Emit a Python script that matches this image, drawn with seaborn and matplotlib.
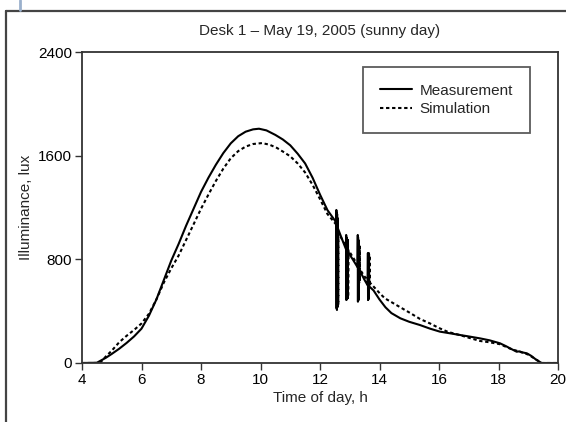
import matplotlib
matplotlib.use("Agg")
import matplotlib.pyplot as plt
import seaborn as sns
import pandas as pd
from matplotlib.lines import Line2D

# ---- data ----
meas_time = [4.0, 4.5, 4.8, 5.0, 5.25, 5.5, 5.75, 6.0, 6.25, 6.5, 6.75, 7.0, 7.25, 7.5, 7.75,
             8.0, 8.25, 8.5, 8.75, 9.0, 9.25, 9.5, 9.75, 9.95, 10.2, 10.5, 10.75, 11.0, 11.25,
             11.5, 11.75, 12.0, 12.25, 12.5,
             12.54, 12.55, 12.56, 12.565, 12.57, 12.575, 12.58, 12.585, 12.59, 12.6,
             12.75, 12.87, 12.88, 12.885, 12.89, 12.895, 12.9, 12.905, 12.91, 12.93,
             13.1, 13.26, 13.27, 13.275, 13.28, 13.285, 13.29, 13.295, 13.3, 13.32,
             13.5, 13.6, 13.61, 13.615, 13.62, 13.625, 13.63, 13.635, 13.64, 13.66,
             13.8, 14.0, 14.2, 14.4, 14.7, 15.0, 15.36, 15.7, 16.03, 16.4, 16.71, 17.0,
             17.38, 17.7, 18.05, 18.25, 18.39, 18.5, 18.61, 18.7, 18.8, 18.95, 19.1, 19.28,
             19.45, 20.0]
meas_lux = [0, 2, 40, 70, 110, 155, 205, 265, 365, 490, 640, 790, 920, 1060, 1190,
            1320, 1430, 1530, 1620, 1695, 1750, 1785, 1803, 1808, 1795, 1760, 1725, 1680, 1615,
            1540, 1430, 1300, 1180, 1100,
            1080, 1181, 420, 1160, 409, 1150, 430, 1120, 450, 1040,
            950, 880, 988, 486, 970, 490, 960, 500, 940, 860,
            800, 740, 988, 473, 970, 480, 950, 490, 930, 720,
            640, 600, 849, 486, 830, 490, 800, 500, 780, 590,
            560, 490, 430, 385, 345, 318, 293,
            265, 242, 228, 216, 205,
            190, 175, 152, 130, 113, 100, 87, 90, 82, 75, 55, 23,
            0, 0]

sim_time = [4.0, 4.6, 4.8, 5.0, 5.25, 5.5, 5.75, 6.0, 6.25, 6.5, 6.75, 7.0, 7.25, 7.5, 7.75,
            8.0, 8.25, 8.5, 8.75, 9.0, 9.25, 9.5, 9.75, 10.05, 10.3, 10.55, 10.8, 11.0, 11.25,
            11.5, 11.75, 12.0, 12.25, 12.5,
            12.58, 12.59, 12.595, 12.6, 12.605, 12.61, 12.615, 12.62, 12.63,
            12.8, 12.91, 12.92, 12.925, 12.93, 12.935, 12.94, 12.945, 12.96,
            13.15, 13.3, 13.31, 13.315, 13.32, 13.325, 13.33, 13.335, 13.35,
            13.5, 13.63, 13.64, 13.645, 13.65, 13.655, 13.66, 13.665, 13.68,
            14.0, 14.18, 14.4, 14.69, 15.0, 15.36, 15.7, 16.0,
            16.3, 16.71, 17.0, 17.38, 17.7, 18.05, 18.4, 18.7, 19.0, 19.28, 19.45, 20.0]
sim_lux = [0, 0, 50, 95, 160, 210, 255, 305, 380, 490, 620, 730, 830, 950, 1070,
           1190, 1300, 1405, 1500, 1580, 1635, 1670, 1690, 1697, 1685, 1660, 1625, 1595, 1540,
           1470, 1375, 1265, 1150, 1080,
           1060, 1026, 434, 1010, 440, 1000, 450, 990, 1000,
           930, 890, 960, 492, 950, 500, 940, 510, 870,
           800, 740, 926, 617, 910, 630, 900, 640, 720,
           666, 640, 849, 586, 840, 595, 830, 600, 620,
           540, 499, 470, 431, 390, 340, 305, 270,
           240, 215, 195, 170, 160, 145, 110, 88, 65, 25, 0, 0]

series_names = ["Measurement", "Simulation"]
x_ticks = [4, 6, 8, 10, 12, 14, 16, 18, 20]
y_ticks = [0, 800, 1600, 2400]

df = pd.concat([
    pd.DataFrame({"time": meas_time, "lux": meas_lux, "series": series_names[0]}),
    pd.DataFrame({"time": sim_time, "lux": sim_lux, "series": series_names[1]}),
], ignore_index=True)

sns.set_style("ticks")
plt.rcParams["font.family"] = ["Liberation Sans", "DejaVu Sans"]

W, H = 566, 422
fig = plt.figure(figsize=(W / 100, H / 100), dpi=100)
ax = fig.add_axes([82 / W, 1 - 363 / H, (558 - 82) / W, (363 - 52) / H])

sns.lineplot(data=df, x="time", y="lux", hue="series", style="series",
             palette={series_names[0]: "black", series_names[1]: "black"},
             dashes={series_names[0]: "", series_names[1]: (1.6, 1.3)},
             estimator=None, sort=False, linewidth=1.5, ax=ax)

ax.set_xlim(4, 20)
ax.set_ylim(0, 2400)
ax.set_xticks(x_ticks)
ax.set_yticks(y_ticks)
ax.tick_params(axis="both", direction="out", length=5, width=1.0, colors="#333333",
               labelsize=11, labelcolor="black", pad=2)
for s in ax.spines.values():
    s.set_visible(True)
    s.set_linewidth(1.3)
    s.set_color("#333333")

ax.set_xlabel("Time of day, h", fontsize=11, labelpad=3)
ax.set_ylabel("Illuminance, lux", fontsize=11, labelpad=4)
ax.set_title("Desk 1 – May 19, 2005 (sunny day)", fontsize=11, pad=12)

leg = ax.legend(loc="upper right", bbox_to_anchor=(0.941, 0.952), borderaxespad=0,
                frameon=True, fancybox=False, edgecolor="#333333", fontsize=11,
                borderpad=1.1, handlelength=2.1, handletextpad=0.5, labelspacing=0.3)
leg.get_frame().set_linewidth(1.3)

# outer frame of the figure panel
fig.add_artist(Line2D([5.5 / W, 5.5 / W], [0, 1 - 11 / H], transform=fig.transFigure,
                      color="#444444", linewidth=1.6))
fig.add_artist(Line2D([5.5 / W, 1], [1 - 11 / H, 1 - 11 / H], transform=fig.transFigure,
                      color="#444444", linewidth=1.6))
fig.add_artist(Line2D([19.5 / W, 19.5 / W], [1 - 10 / H, 1], transform=fig.transFigure,
                      color="#9ab0cc", linewidth=2))

fig.savefig("out.png", dpi=100)
